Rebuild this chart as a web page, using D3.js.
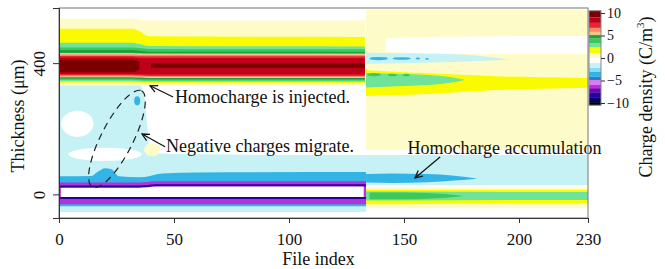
<!DOCTYPE html>
<html>
<head>
<meta charset="utf-8">
<script src="https://cdn.jsdelivr.net/npm/d3@7"></script>
<style>
  body { margin: 0; background: #fff; }
  text { font-family: "Liberation Serif", "Times New Roman", serif; fill: #111; }
</style>
</head>
<body>
<div id="chart"></div>
<script>
// axis ticks
const fileTicks = [0, 50, 100, 150, 200, 230];
const thickTicks = [0, 400];
const cbTicks = [10, 5, 0, -5, -10];

// colour levels of the charge density (C/m3), ascending
const levelBounds = [-10.5, -9.8, -8.7, -7.6, -6.7, -6, -4.9, -4.2, -3.1, -2.2, -1.1, 0, 1.1, 2.4, 3.3, 4.4, 5.1, 5.8, 6.7, 7.8, 9, 10.5];
const levelColors = ['#000000', '#000070', '#2a0098', '#7a00b8', '#b232dc', '#dd7cf0', '#2e7ad8', '#33b4e6', '#86dcf0', '#c6f2f6',
    '#ffffff', '#fdfcc8', '#fbfb00', '#6fe39a', '#3cc85a', '#1ea03e', '#f2c486', '#f28a6c', '#ec2232', '#c0001a', '#7d0000'];

// regions: v = density, f = file index knots, top/bot = thickness (um)
const upperBand = [
    { v: 0.5, f: [0, 32, 35, 39, 133], top: [535, 535, 532, 530, 530], bot: [332, 332, 332, 332, 332] },
    { v: 1.8, f: [0, 32, 35, 39, 133], top: [505, 505, 497, 482, 480], bot: [340, 340, 340, 339, 339] },
    { v: 2.9, f: [0, 32, 35, 39, 133], top: [462, 462, 458, 452, 451], bot: [345, 345, 344, 343, 343] },
    { v: 3.8, f: [0, 32, 35, 39, 133], top: [448, 448, 446, 443, 442], bot: [349, 349, 348, 347, 347] },
    { v: 4.7, f: [0, 32, 35, 39, 133], top: [440, 440, 438, 435, 434], bot: [353, 353, 352, 351, 351] },
    { v: 5.4, f: [0, 32, 35, 39, 133], top: [431, 431, 430, 429, 429], bot: [357, 357, 356, 355, 355] },
    { v: 6.2, f: [0, 32, 35, 39, 133], top: [426, 426, 425, 425, 425], bot: [360, 360, 359, 358, 358] },
    { v: 7.2, f: [0, 32, 35, 39, 133], top: [422, 422, 421, 421, 421], bot: [363, 363, 362, 361, 361] },
    { v: 8.3, f: [0, 32, 35, 39, 133], top: [417, 417, 415, 415, 415], bot: [367, 367, 366, 365, 365] },
    { v: 9.5, f: [0, 32, 35], top: [410, 410, 403], bot: [372, 372, 382] },
    { v: 9.5, f: [40, 133], top: [399, 399], bot: [386, 386] }
];

const rightBands = [
    { v: 0.5, f: [133.5, 230], top: [562, 562], bot: [135, 135] },
    { v: -0.5, f: [142, 160, 200, 230], top: [476, 480, 482, 482], bot: [434, 430, 428, 428] },
    { v: -1.5, f: [133.5, 150, 175, 195], top: [432, 430, 426, 411], bot: [398, 400, 404, 410] },
    { v: 1.8, f: [133.5, 150, 170, 190, 210, 230], top: [378, 372, 366, 360, 357, 355], bot: [300, 303, 310, 318, 322, 325] },
    { v: 2.9, f: [133.5, 150, 162, 170, 176], top: [370, 367, 363, 358, 350], bot: [326, 330, 334, 340, 348] },
    { v: -1.5, f: [133.5, 230], top: [120, 120], bot: [28, 28] },
    { v: -3.5, f: [133.5, 145, 160, 172, 182], top: [62, 64, 62, 57, 48], bot: [36, 35, 37, 42, 48] },
    { v: 0.5, f: [133.5, 230], top: [22, 22], bot: [-42, -42] },
    { v: 1.8, f: [133.5, 150, 200, 230], top: [15, 15, 14, 14], bot: [-30, -30, -28, -28] },
    { v: 2.9, f: [133.5, 150, 200, 230], top: [9, 9, 7, 7], bot: [-19, -19, -17, -17] },
    { v: 3.8, f: [135, 150, 160, 168, 176], top: [6, 6, 4, 1, -5], bot: [-15, -15, -13, -10, -5] }
];

const lowerBands = [
    { v: -1.5, f: [0, 35, 37, 40, 60, 100, 133.5], top: [338, 336, 300, 125, 122, 120, 120], bot: [0, 0, 0, 0, 0, 0, 0] },
    { v: -1.5, f: [0, 133.5], top: [-30, -30], bot: [-54, -54] },
    { v: -3.5, f: [0, 133.5], top: [-26, -26], bot: [-36, -36] },
    { v: -3.5, f: [0, 14, 17, 20, 23, 26, 35, 45, 60, 133.5], top: [55, 56, 70, 80, 76, 55, 52, 64, 67, 68], bot: [30, 30, 30, 30, 30, 30, 30, 30, 30, 30] },
    { v: -6.3, f: [0, 35, 42, 133.5], top: [36, 36, 40, 40], bot: [-30, -30, -30, -30] },
    { v: -8, f: [0, 35, 42, 133.5], top: [27, 27, 31, 31], bot: [20, 20, 24, 24] },
    { v: -0.5, f: [0.8, 35, 42, 132.5], top: [20, 20, 24, 24], bot: [-8, -8, -8, -8] },
    { v: -8, f: [0, 133.5], top: [-8, -8], bot: [-14, -14] }
];

// small patches: centre (f, t) and half sizes
const blobs = [
    { v: -0.5, f: 8, t: 215, rf: 7, rt: 40 },
    { v: -0.5, f: 20, t: 122, rf: 16, rt: 20 },
    { v: 0.5, f: 40.5, t: 136, rf: 3.5, rt: 20 },
    { v: -3.5, f: 34, t: 285, rf: 1.3, rt: 14 },
    { v: -3.5, f: 139, t: 414, rf: 4, rt: 5 },
    { v: -3.5, f: 149, t: 414, rf: 4, rt: 4 },
    { v: -3.5, f: 156, t: 414, rf: 1, rt: 3 },
    { v: -3.5, f: 160, t: 413, rf: 0.8, rt: 3 },
    { v: 3.8, f: 137, t: 365, rf: 3, rt: 5 },
    { v: 3.8, f: 145, t: 364, rf: 2, rt: 4 },
    { v: 3.8, f: 151, t: 364, rf: 1.5, rt: 4 }
];

// annotations in data units
const notes = [
    { text: 'Homocharge is injected.', f: 50.4, t: 291, af: 49.6, at: 297, hf: 39.6, ht: 331 },
    { text: 'Negative charges migrate.', f: 46.5, t: 142, af: 46.1, at: 145, hf: 36.1, ht: 184 },
    { text: 'Homocharge accumulation', f: 151.5, t: 135, af: 165.7, at: 114, hf: 154.8, ht: 50 }
];

const W = 665, H = 269;
const plotL = 59, plotR = 588, plotT = 8, plotB = 218;

const svg = d3.select('#chart').append('svg')
    .attr('width', W)
    .attr('height', H);

const x = d3.scaleLinear().domain([0, 230]).range([plotL, plotR]);
const y = d3.scaleLinear().domain([-72, 568]).range([plotB, plotT]);
const color = d3.scaleThreshold().domain(levelBounds.slice(1, -1)).range(levelColors);

svg.append('clipPath').attr('id', 'plotclip')
    .append('rect')
    .attr('x', plotL).attr('y', plotT)
    .attr('width', plotR - plotL).attr('height', plotB - plotT);

const plot = svg.append('g').attr('clip-path', 'url(#plotclip)');

let area = d3.area()
    .x(d => x(d.f))
    .y0(d => y(d.b))
    .y1(d => y(d.t))
    .curve(d3.curveMonotoneX);

function drawBands(list) {
    list.forEach(function (band) {
        let pts = band.f.map((f, i) => ({ f: f, t: band.top[i], b: band.bot[i] }));
        plot.append('path')
            .attr('d', area(pts))
            .attr('fill', color(band.v));
    });
}

drawBands(rightBands);
drawBands(lowerBands);
drawBands(upperBand);

plot.selectAll('ellipse.blob')
    .data(blobs)
    .enter()
    .append('ellipse')
    .attr('class', 'blob')
    .attr('cx', d => x(d.f))
    .attr('cy', d => y(d.t))
    .attr('rx', d => x(d.f + d.rf) - x(d.f))
    .attr('ry', d => y(d.t - d.rt) - y(d.t))
    .attr('fill', d => color(d.v));

// dashed ellipse round the migrating charge
let ec = { f: 25.2, t: 169 };
svg.append('ellipse')
    .attr('transform', 'translate(' + x(ec.f) + ',' + y(ec.t) + ') rotate(-63)')
    .attr('rx', 54)
    .attr('ry', 16)
    .attr('fill', 'none')
    .attr('stroke', '#222')
    .attr('stroke-width', 1.2)
    .attr('stroke-dasharray', '7,5');

// arrow marker
svg.append('defs').append('marker')
    .attr('id', 'arrow')
    .attr('viewBox', '0 0 10 10')
    .attr('refX', 9).attr('refY', 5)
    .attr('markerWidth', 9).attr('markerHeight', 9)
    .attr('markerUnits', 'userSpaceOnUse')
    .attr('orient', 'auto')
    .append('path')
    .attr('d', 'M1,1 L9,5 L1,9')
    .attr('fill', 'none')
    .attr('stroke', '#111')
    .attr('stroke-width', 1.4);

notes.forEach(function (n) {
    svg.append('line')
        .attr('x1', x(n.af)).attr('y1', y(n.at))
        .attr('x2', x(n.hf)).attr('y2', y(n.ht))
        .attr('stroke', '#111')
        .attr('stroke-width', 1.2)
        .attr('marker-end', 'url(#arrow)');
    svg.append('text')
        .attr('x', x(n.f))
        .attr('y', y(n.t))
        .attr('dominant-baseline', 'middle')
        .style('font-size', '18px')
        .text(n.text);
});

// frame
svg.append('rect')
    .attr('x', plotL).attr('y', plotT)
    .attr('width', plotR - plotL).attr('height', plotB - plotT)
    .attr('fill', 'none')
    .attr('stroke', '#777')
    .attr('stroke-width', 1);

// x axis
let xAxis = svg.append('g')
    .attr('transform', 'translate(0,' + plotB + ')')
    .call(d3.axisBottom(x).tickValues(fileTicks).tickSize(5).tickPadding(10));
xAxis.select('.domain').attr('stroke', '#333');
xAxis.selectAll('line').attr('stroke', '#333');
xAxis.selectAll('text').style('font-size', '17px').attr('fill', '#111');

svg.append('text')
    .attr('x', (plotL + plotR) / 2 - 5)
    .attr('y', 261)
    .attr('text-anchor', 'middle')
    .attr('dominant-baseline', 'middle')
    .style('font-size', '18px')
    .text('File index');

// y axis, tick labels turned on their side
let yAxis = svg.append('g')
    .attr('transform', 'translate(' + plotL + ',0)')
    .call(d3.axisLeft(y).tickValues(thickTicks).tickSize(6).tickPadding(0));
yAxis.select('.domain').attr('stroke', '#333');
yAxis.selectAll('line').attr('stroke', '#333');
yAxis.selectAll('text')
    .attr('x', null).attr('dy', null)
    .attr('text-anchor', 'middle')
    .attr('dominant-baseline', 'middle')
    .attr('transform', 'translate(-18,0) rotate(-90)')
    .style('font-size', '17px')
    .attr('fill', '#111');

svg.append('text')
    .attr('transform', 'translate(20,116) rotate(-90)')
    .attr('text-anchor', 'middle')
    .attr('dominant-baseline', 'middle')
    .style('font-size', '18px')
    .text('Thickness (\u03bcm)');

// colour bar
const cbX = 589, cbW = 12;
const cb = d3.scaleLinear().domain([-10, 10]).range([103, 13]);
let cbGroup = svg.append('g');
cbGroup.selectAll('rect')
    .data(levelColors)
    .enter()
    .append('rect')
    .attr('x', cbX)
    .attr('y', (d, i) => cb(levelBounds[i + 1]))
    .attr('width', cbW)
    .attr('height', (d, i) => cb(levelBounds[i]) - cb(levelBounds[i + 1]))
    .attr('fill', d => d);
cbGroup.append('rect')
    .attr('x', cbX).attr('y', cb(10.5))
    .attr('width', cbW).attr('height', cb(-10.5) - cb(10.5))
    .attr('fill', 'none')
    .attr('stroke', '#888');

let cbAxis = svg.append('g')
    .attr('transform', 'translate(' + (cbX + cbW) + ',0)')
    .call(d3.axisRight(cb).tickValues(cbTicks).tickSize(4).tickPadding(2).tickFormat(d3.format('d')));
cbAxis.select('.domain').remove();
cbAxis.selectAll('line').attr('stroke', '#333');
cbAxis.selectAll('text').style('font-size', '14px').attr('fill', '#111');

svg.append('text')
    .attr('transform', 'translate(648,97) rotate(-90)')
    .attr('text-anchor', 'middle')
    .attr('dominant-baseline', 'middle')
    .style('font-size', '18px')
    .html('Charge density (C/m<tspan dy="-7" style="font-size:11px">3</tspan><tspan dy="7">)</tspan>');
</script>
</body>
</html>
